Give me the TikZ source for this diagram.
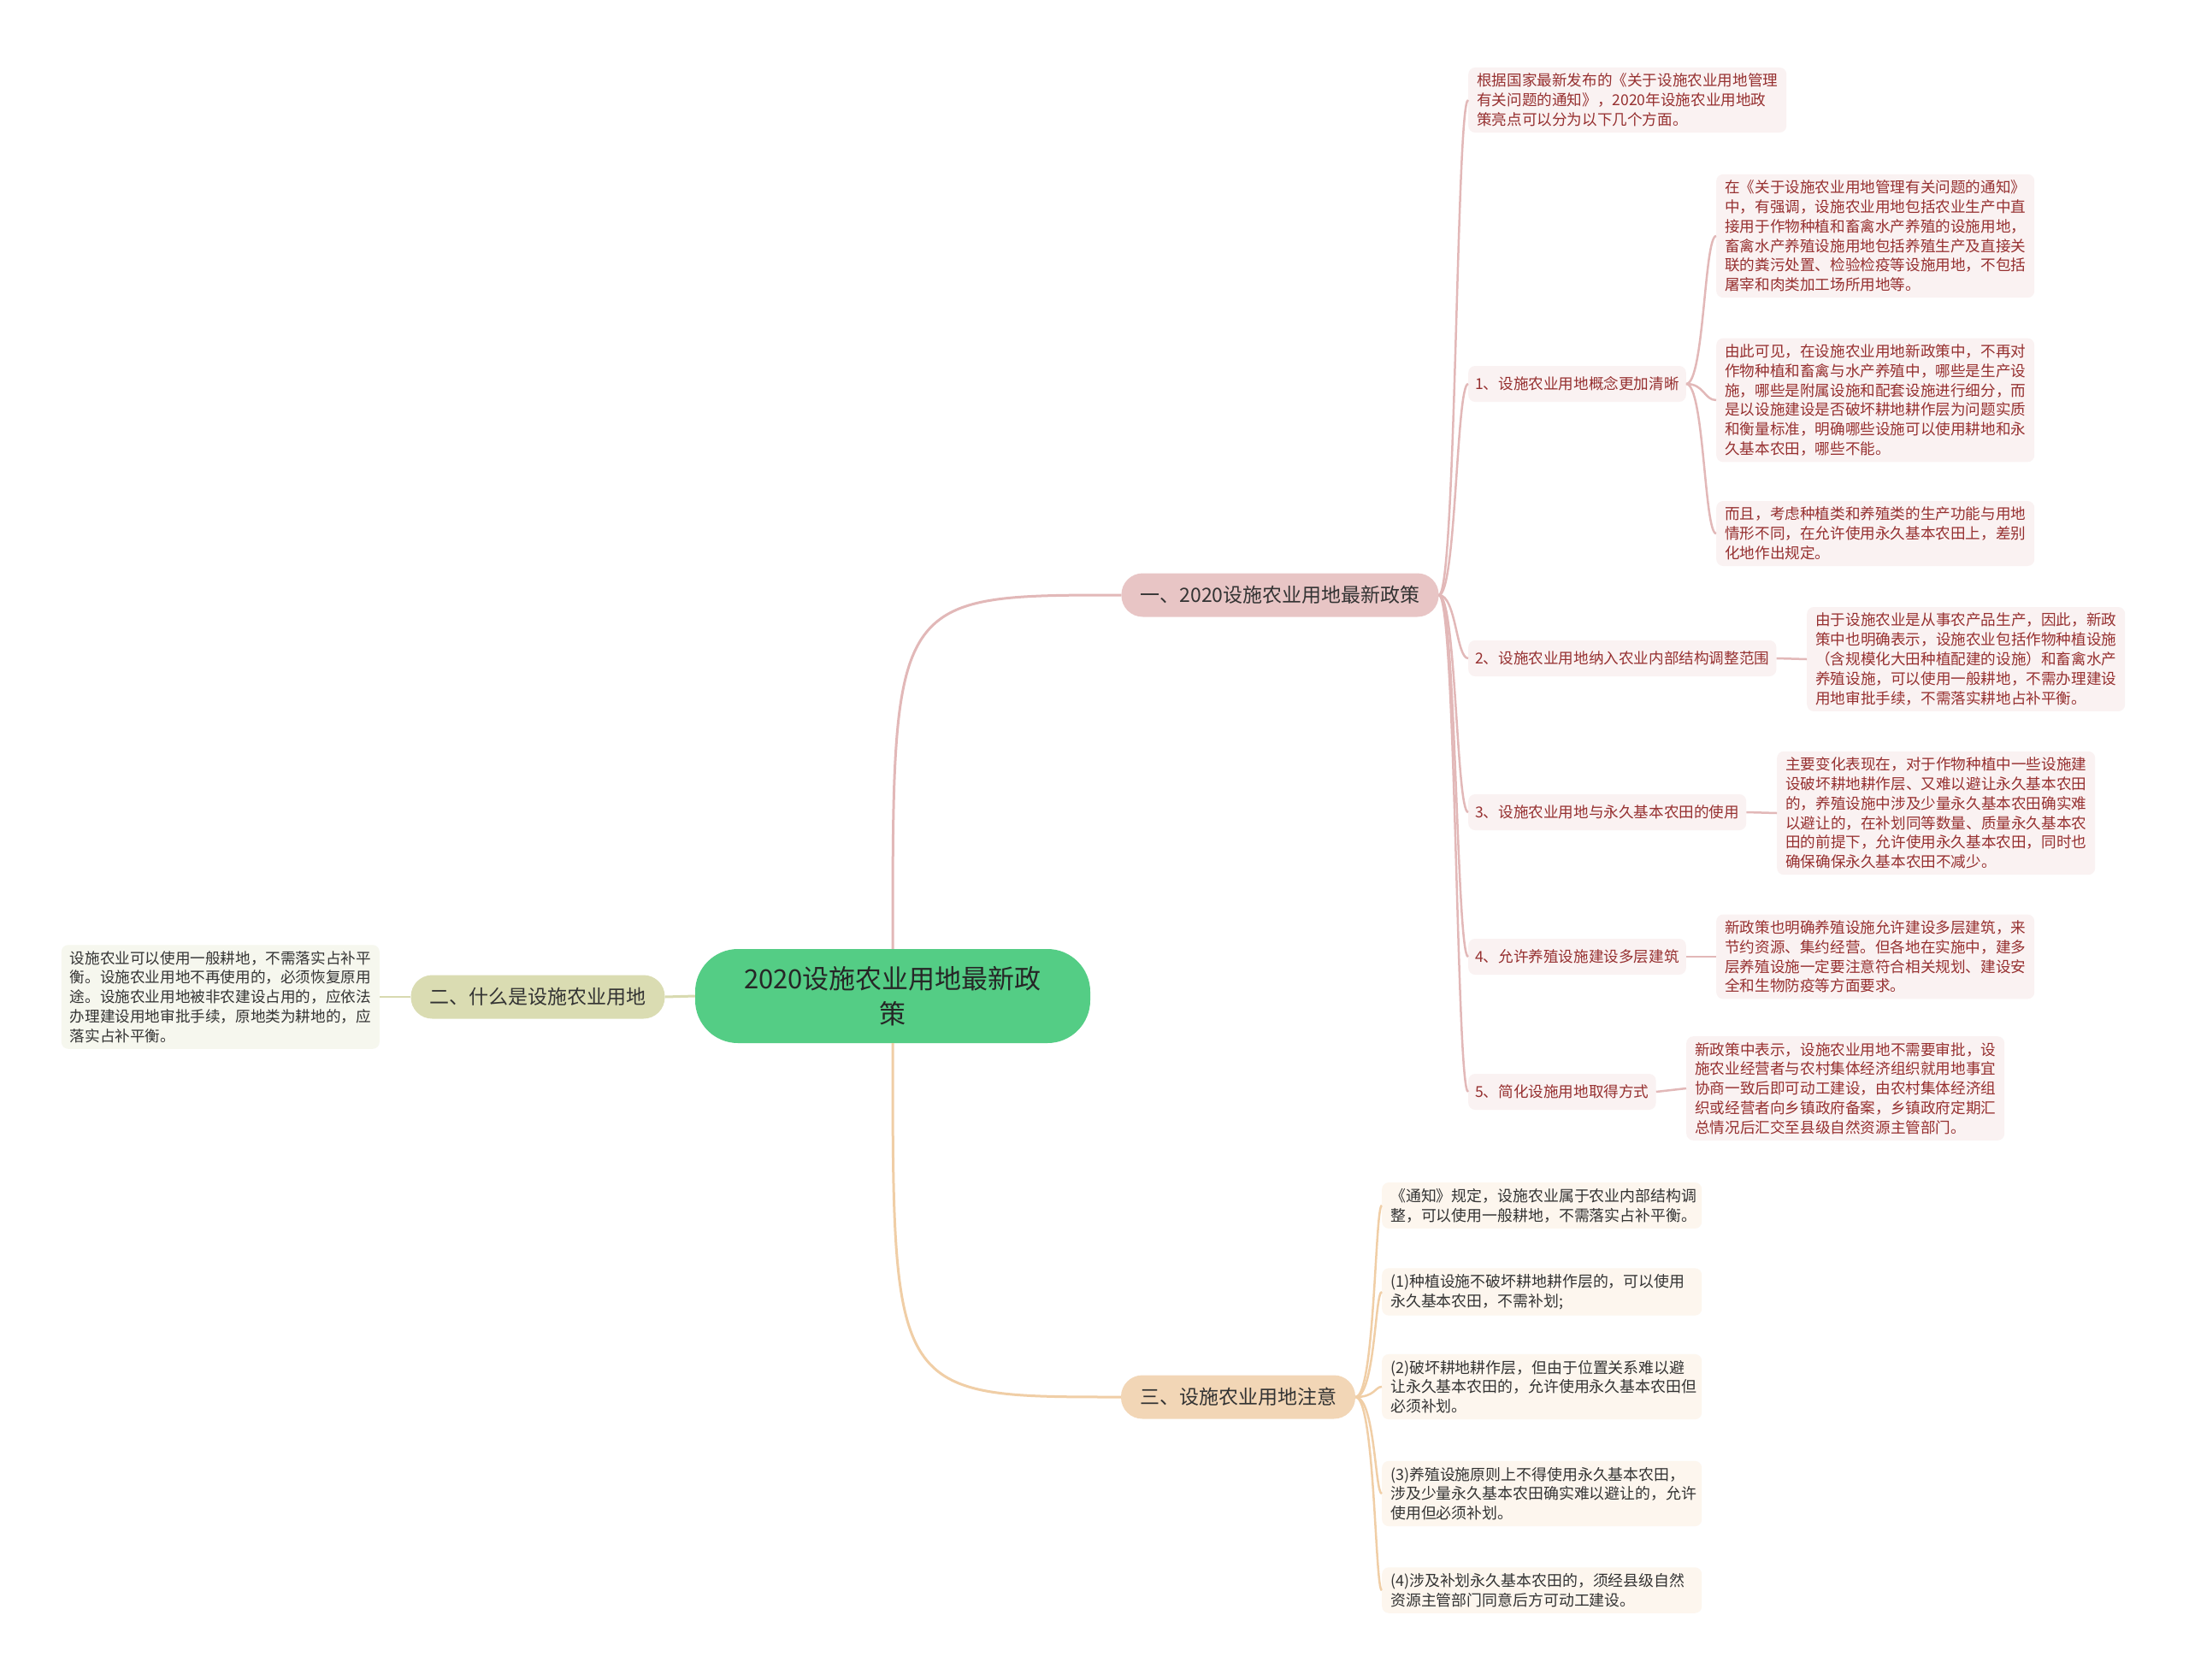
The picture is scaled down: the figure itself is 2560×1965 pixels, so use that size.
\documentclass[tikz,border=0pt]{standalone}
\usepackage{fontspec}
\setmainfont{Noto Sans CJK SC}

\definecolor{rootgreen}{RGB}{84,205,133}
\definecolor{brpink}{RGB}{232,197,197}
\definecolor{brolive}{RGB}{218,220,178}
\definecolor{brpeach}{RGB}{242,214,182}
\definecolor{leafpink}{RGB}{250,242,242}
\definecolor{leafpeach}{RGB}{253,246,238}
\definecolor{leafolive}{RGB}{246,247,238}
\definecolor{txtred}{RGB}{150,48,48}
\definecolor{txtdark}{RGB}{51,51,51}
\definecolor{edgepink}{RGB}{226,184,184}
\definecolor{edgepeach}{RGB}{240,206,166}
\definecolor{edgeolive}{RGB}{216,218,176}

\tikzset{
  rootbox/.style={fill=rootgreen, rounded corners=50pt, minimum width=462pt,
    minimum height=110pt, align=center, text=black!85,
    font=\fontsize{31}{41}\selectfont},
  brbox/.style={rounded corners=25pt, minimum height=51pt, inner xsep=22pt,
    text=txtdark, font=\fontsize{23}{28}\selectfont},
  leafbase/.style={rounded corners=8pt, align=left, inner xsep=10pt,
    inner ysep=7pt, font=\fontsize{17.6}{22.8}\selectfont},
  redleaf/.style={leafbase, fill=leafpink, text=txtred},
  redlabel/.style={redleaf, minimum height=42pt, inner xsep=8pt},
  peachleaf/.style={leafbase, fill=leafpeach, text=txtdark, text width=354pt,
    font=\fontsize{17.9}{22.8}\selectfont},
  oliveleaf/.style={leafbase, fill=leafolive, text=txtdark},
  epink/.style={draw=edgepink, line width=2.5pt},
  epeach/.style={draw=edgepeach, line width=2.5pt},
  eolive/.style={draw=edgeolive, line width=3pt}
}

\begin{document}
\begin{tikzpicture}[x=1pt, y=-1pt]
% white page of the same size as the reference
\fill[white] (0,0) rectangle (2560,1965);
\useasboundingbox (0,0) rectangle (2560,1965);

% the centre and the three main branches
\node[rootbox] (root) at (1044,1165) {2020设施农业用地最新政\\策};
\node[brbox, fill=brpink] (b1) at (1497,696) {一、2020设施农业用地最新政策};
\node[brbox, fill=brolive] (b2) at (629,1166) {二、什么是设施农业用地};
\node[brbox, fill=brpeach] (b3) at (1448,1634) {三、设施农业用地注意};

% branch one
\node[redleaf, anchor=west] (l0) at (1717,117) {根据国家最新发布的《关于设施农业用地管理\\有关问题的通知》，2020年设施农业用地政\\策亮点可以分为以下几个方面。};
\node[redlabel, anchor=west] (p1) at (1717,449) {1、设施农业用地概念更加清晰};
\node[redlabel, anchor=west] (p2) at (1717,770) {2、设施农业用地纳入农业内部结构调整范围};
\node[redlabel, anchor=west] (p3) at (1717,950) {3、设施农业用地与永久基本农田的使用};
\node[redlabel, anchor=west] (p4) at (1717,1119) {4、允许养殖设施建设多层建筑};
\node[redlabel, anchor=west] (p5) at (1717,1277) {5、简化设施用地取得方式};

\node[redleaf, anchor=west] (p1a) at (2007,276) {在《关于设施农业用地管理有关问题的通知》\\中，有强调，设施农业用地包括农业生产中直\\接用于作物种植和畜禽水产养殖的设施用地，\\畜禽水产养殖设施用地包括养殖生产及直接关\\联的粪污处置、检验检疫等设施用地，不包括\\屠宰和肉类加工场所用地等。};
\node[redleaf, anchor=west] (p1b) at (2007,468) {由此可见，在设施农业用地新政策中，不再对\\作物种植和畜禽与水产养殖中，哪些是生产设\\施，哪些是附属设施和配套设施进行细分，而\\是以设施建设是否破坏耕地耕作层为问题实质\\和衡量标准，明确哪些设施可以使用耕地和永\\久基本农田，哪些不能。};
\node[redleaf, anchor=west] (p1c) at (2007,624) {而且，考虑种植类和养殖类的生产功能与用地\\情形不同，在允许使用永久基本农田上，差别\\化地作出规定。};
\node[redleaf, anchor=west] (p2a) at (2113,771) {由于设施农业是从事农产品生产，因此，新政\\策中也明确表示，设施农业包括作物种植设施\\（含规模化大田种植配建的设施）和畜禽水产\\养殖设施，可以使用一般耕地，不需办理建设\\用地审批手续，不需落实耕地占补平衡。};
\node[redleaf, anchor=west] (p3a) at (2078,951) {主要变化表现在，对于作物种植中一些设施建\\设破坏耕地耕作层、又难以避让永久基本农田\\的，养殖设施中涉及少量永久基本农田确实难\\以避让的，在补划同等数量、质量永久基本农\\田的前提下，允许使用永久基本农田，同时也\\确保确保永久基本农田不减少。};
\node[redleaf, anchor=west] (p4a) at (2007,1119) {新政策也明确养殖设施允许建设多层建筑，来\\节约资源、集约经营。但各地在实施中，建多\\层养殖设施一定要注意符合相关规划、建设安\\全和生物防疫等方面要求。};
\node[redleaf, anchor=west] (p5a) at (1972,1273) {新政策中表示，设施农业用地不需要审批，设\\施农业经营者与农村集体经济组织就用地事宜\\协商一致后即可动工建设，由农村集体经济组\\织或经营者向乡镇政府备案，乡镇政府定期汇\\总情况后汇交至县级自然资源主管部门。};

% branch two
\node[oliveleaf, anchor=east] (q1) at (444,1166) {设施农业可以使用一般耕地，不需落实占补平\\衡。设施农业用地不再使用的，必须恢复原用\\途。设施农业用地被非农建设占用的，应依法\\办理建设用地审批手续，原地类为耕地的，应\\落实占补平衡。};

% branch three
\node[peachleaf, anchor=west] (r0) at (1616,1410) {《通知》规定，设施农业属于农业内部结构调\\整，可以使用一般耕地，不需落实占补平衡。};
\node[peachleaf, anchor=west] (r1) at (1616,1511) {(1)种植设施不破坏耕地耕作层的，可以使用\\永久基本农田，不需补划;};
\node[peachleaf, anchor=west] (r2) at (1616,1622) {(2)破坏耕地耕作层，但由于位置关系难以避\\让永久基本农田的，允许使用永久基本农田但\\必须补划。};
\node[peachleaf, anchor=west] (r3) at (1616,1747) {(3)养殖设施原则上不得使用永久基本农田，\\涉及少量永久基本农田确实难以避让的，允许\\使用但必须补划。};
\node[peachleaf, anchor=west] (r4) at (1616,1860) {(4)涉及补划永久基本农田的，须经县级自然\\资源主管部门同意后方可动工建设。};

% trunk points for the curved connectors
\coordinate (k1) at (1703,696);
\coordinate (k2) at (1993,449);
\coordinate (k3) at (1608,1634);

% connectors
\draw[epink, line width=3pt] (root.north) .. controls (root.north |- b1.west) and (root.north |- b1.west) .. (b1.west);
\draw[epeach, line width=3pt] (root.south) .. controls (root.south |- b3.west) and (root.south |- b3.west) .. (b3.west);
\draw[eolive] (root.west) -- (b2.east);
\draw[eolive, line width=2.5pt] (b2.west) -- (q1.east);
\foreach \c in {l0,p1,p2,p3,p4,p5}
  \draw[epink] (b1.east) .. controls (k1) and (k1 |- \c.west) .. (\c.west);
\foreach \c in {p1a,p1b,p1c}
  \draw[epink] (p1.east) .. controls (k2) and (k2 |- \c.west) .. (\c.west);
\draw[epink] (p2.east) -- (p2a.west);
\draw[epink] (p3.east) -- (p3a.west);
\draw[epink] (p4.east) -- (p4a.west);
\draw[epink] (p5.east) -- (p5a.west);
\foreach \c in {r0,r1,r2,r3,r4}
  \draw[epeach] (b3.east) .. controls (k3) and (k3 |- \c.west) .. (\c.west);
\end{tikzpicture}
\end{document}
